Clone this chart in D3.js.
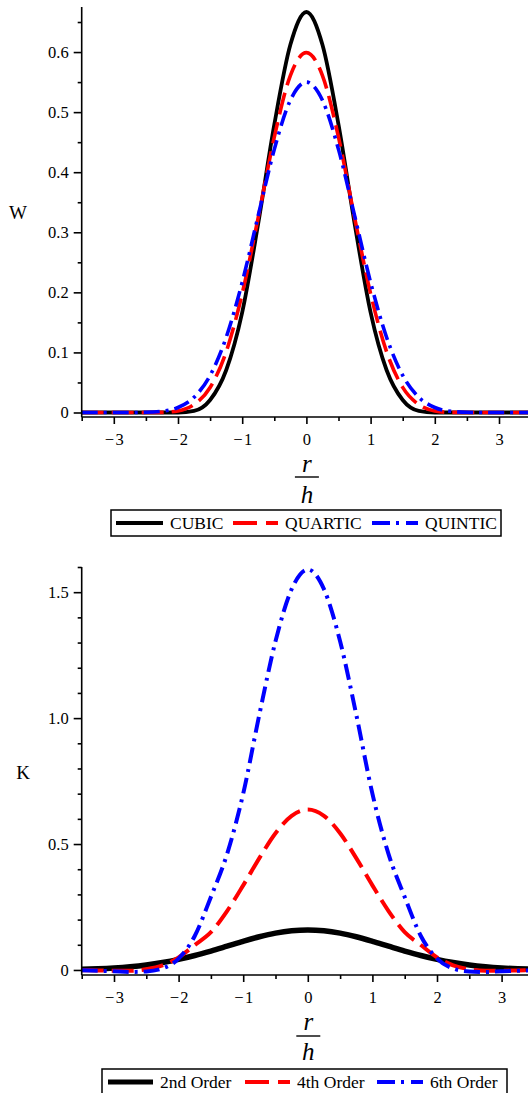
<!DOCTYPE html>
<html>
<head>
<meta charset="utf-8">
<script src="https://cdn.jsdelivr.net/npm/d3@7"></script>
<style>
  body { margin: 0; background: #fff; }
  svg { display: block; }
  text { font-family: "Liberation Serif", "Times New Roman", serif; fill: #000; }
</style>
</head>
<body>
<svg id="chart" width="528" height="1093"></svg>
<script>
// Sample positions r/h shared by both panels
const rOverH = [-3.5, -3.25, -3, -2.75, -2.5, -2.25, -2, -1.75, -1.5, -1.25, -1, -0.75, -0.5, -0.25, 0,
                0.25, 0.5, 0.75, 1, 1.25, 1.5, 1.75, 2, 2.25, 2.5, 2.75, 3, 3.25, 3.5];

// Upper panel: smoothing kernels W
const cubicW = [0, 0, 0, 0, 0, 0, 0, 0.0026, 0.0208, 0.0703, 0.1667, 0.3151, 0.4792, 0.6120, 0.6667,
                0.6120, 0.4792, 0.3151, 0.1667, 0.0703, 0.0208, 0.0026, 0, 0, 0, 0, 0, 0, 0];
const quarticW = [0, 0, 0, 0, 0, 0.0002, 0.0026, 0.0132, 0.0417, 0.1009, 0.1979, 0.3249, 0.4583, 0.5609, 0.5990,
                  0.5609, 0.4583, 0.3249, 0.1979, 0.1009, 0.0417, 0.0132, 0.0026, 0.0002, 0, 0, 0, 0, 0];
const quinticW = [0, 0, 0, 0, 0.0003, 0.0020, 0.0083, 0.0254, 0.0617, 0.1249, 0.2167, 0.3281, 0.4380, 0.5197, 0.5500,
                  0.5197, 0.4380, 0.3281, 0.2167, 0.1249, 0.0617, 0.0254, 0.0083, 0.0020, 0.0003, 0, 0, 0, 0];

// Lower panel: kernels K of increasing order
const order2K = [0.0027, 0.0047, 0.0079, 0.0128, 0.0198, 0.0294, 0.0419, 0.0573, 0.0751, 0.0944, 0.1139, 0.1318, 0.1463, 0.1557, 0.1590,
                 0.1557, 0.1463, 0.1318, 0.1139, 0.0944, 0.0751, 0.0573, 0.0419, 0.0294, 0.0198, 0.0128, 0.0079, 0.0047, 0.0027];
const order4K = [-0.001, -0.002, -0.003, -0.003, 0.003, 0.018, 0.050, 0.099, 0.150, 0.234, 0.336, 0.444, 0.543, 0.612, 0.637,
                 0.612, 0.543, 0.444, 0.336, 0.234, 0.150, 0.099, 0.050, 0.018, 0.003, -0.003, -0.003, -0.002, -0.001];
const order6K = [-0.001, -0.003, -0.005, -0.008, -0.006, 0.006, 0.045, 0.135, 0.290, 0.460, 0.700, 1.014, 1.305, 1.512, 1.590,
                 1.512, 1.305, 1.014, 0.700, 0.460, 0.290, 0.135, 0.045, 0.006, -0.006, -0.008, -0.005, -0.003, -0.001];

// Tick values and legend labels
const xMajorTicks = [-3, -2, -1, 0, 1, 2, 3];
const xMinorTicks = [-3.5, -2.5, -1.5, -0.5, 0.5, 1.5, 2.5, 3.5];
const wMajorTicks = [0, 0.1, 0.2, 0.3, 0.4, 0.5, 0.6];
const wMinorTicks = [0.05, 0.15, 0.25, 0.35, 0.45, 0.55, 0.65];
const kMajorTicks = [0, 0.5, 1.0, 1.5];
const kMinorTicks = [0.1, 0.2, 0.3, 0.4, 0.6, 0.7, 0.8, 0.9, 1.1, 1.2, 1.3, 1.4, 1.6];
const wNames = ["CUBIC", "QUARTIC", "QUINTIC"];
const kNames = ["2nd Order", "4th Order", "6th Order"];

const SERIF = '"Liberation Serif", "Times New Roman", serif';
const svg = d3.select("#chart");
const minus = s => s.replace("-", "\u2212\u200A");

function drawPanel(p) {
  const x = d3.scaleLinear().domain([-3.5, 3.5]).range([p.left, p.right]);
  const y = d3.scaleLinear().domain(p.yDomain).range([p.bottom, p.top]);
  const g = svg.append("g");

  // curves
  const clipId = "clip-" + p.id;
  svg.append("clipPath").attr("id", clipId)
    .append("rect").attr("x", p.left).attr("y", p.top - 10)
    .attr("width", p.right - p.left).attr("height", p.bottom - p.top + 10);
  const line = d3.line().x((d, i) => x(rOverH[i])).y(d => y(d)).curve(d3.curveMonotoneX);
  const curves = g.append("g").attr("clip-path", `url(#${clipId})`);
  p.series.forEach(s => {
    curves.append("path").datum(s.values)
      .attr("d", line).attr("fill", "none")
      .attr("stroke", s.color).attr("stroke-width", s.width)
      .attr("stroke-dasharray", s.dash || null)
      .attr("stroke-linejoin", "round");
  });

  // y axis
  const yAxis = g.append("g").attr("transform", `translate(${p.left},0)`);
  yAxis.call(d3.axisLeft(y).tickValues(p.yMajor).tickSize(8).tickPadding(5)
    .tickFormat(p.yFormat));
  yAxis.append("g").call(d3.axisLeft(y).tickValues(p.yMinor).tickSize(4).tickFormat(""));
  yAxis.selectAll(".domain").remove();
  yAxis.append("line").attr("x1", 0).attr("x2", 0).attr("y1", p.top).attr("y2", p.bottom);

  // x axis
  const xAxis = g.append("g").attr("transform", `translate(0,${p.bottom})`);
  xAxis.call(d3.axisBottom(x).tickValues(xMajorTicks).tickSize(7).tickPadding(9)
    .tickFormat(d => minus(String(d))));
  xAxis.append("g").call(d3.axisBottom(x).tickValues(xMinorTicks).tickSize(4).tickFormat(""));
  xAxis.selectAll(".domain").remove();
  xAxis.append("line").attr("x1", p.left).attr("x2", p.right).attr("y1", 0).attr("y2", 0);

  [yAxis, xAxis].forEach(a => a.attr("font-family", SERIF).attr("font-size", 16.5));
  g.selectAll("line").attr("stroke", "#000").attr("stroke-width", 1.6);
  g.selectAll(".tick text").attr("font-size", 16.5).attr("fill", "#000")
    .attr("font-family", SERIF);

  // axis titles
  g.append("text").attr("x", p.yLabelX).attr("y", p.yLabelY)
    .attr("text-anchor", "middle").attr("font-size", 19).text(p.yLabel);
  const fx = x(0) + 0.5;
  g.append("text").attr("x", fx).attr("y", p.fracTop)
    .attr("text-anchor", "middle").attr("font-size", 25).attr("font-style", "italic").text("r");
  g.append("line").attr("x1", fx - 12).attr("x2", fx + 12)
    .attr("y1", p.fracLine).attr("y2", p.fracLine).attr("stroke", "#000").attr("stroke-width", 1.4);
  g.append("text").attr("x", fx).attr("y", p.fracBottom)
    .attr("text-anchor", "middle").attr("font-size", 25).attr("font-style", "italic").text("h");

  // legend
  const lg = g.append("g");
  lg.append("rect").attr("x", p.legend.x).attr("y", p.legend.y)
    .attr("width", p.legend.w).attr("height", 26)
    .attr("fill", "#fff").attr("stroke", "#000").attr("stroke-width", 1.5);
  p.series.forEach((s, i) => {
    const e = p.legend.items[i];
    lg.append("line").attr("x1", e[0]).attr("x2", e[1])
      .attr("y1", p.legend.y + 13).attr("y2", p.legend.y + 13)
      .attr("stroke", s.color).attr("stroke-width", s.legendWidth)
      .attr("stroke-dasharray", s.legendDash || null);
    lg.append("text").attr("x", e[1] + 7).attr("y", p.legend.y + 18.5)
      .attr("font-size", 17.5).text(s.name);
  });
}

drawPanel({
  id: "w", left: 81.7, right: 81.7 + 7 * 64.2, top: 7, bottom: 417,
  yDomain: [-0.0075, 0.675], yMajor: wMajorTicks, yMinor: wMinorTicks,
  yFormat: d => d === 0 ? "0" : d3.format(".1f")(d),
  yLabel: "W", yLabelX: 18, yLabelY: 219,
  fracTop: 472, fracLine: 477, fracBottom: 503,
  series: [
    { name: wNames[0], values: cubicW, color: "#000", width: 3.8, legendWidth: 4 },
    { name: wNames[1], values: quarticW, color: "#ff0000", width: 3.6, dash: "22,8", legendWidth: 4, legendDash: "24,9" },
    { name: wNames[2], values: quinticW, color: "#0000ff", width: 3.6, dash: "16,6,3,6", legendWidth: 4, legendDash: "18,6,3,7" }
  ],
  legend: { x: 111, y: 510, w: 390, items: [[116, 163], [233, 278], [372, 418]] }
});

drawPanel({
  id: "k", left: 81.7, right: 81.7 + 7 * 64.6, top: 567, bottom: 975,
  yDomain: [-0.02, 1.6], yMajor: kMajorTicks, yMinor: kMinorTicks,
  yFormat: d => d === 0 ? "0" : d3.format(".1f")(d),
  yLabel: "K", yLabelX: 23, yLabelY: 779,
  fracTop: 1030, fracLine: 1036, fracBottom: 1060,
  series: [
    { name: kNames[0], values: order2K, color: "#000", width: 5.5, legendWidth: 5 },
    { name: kNames[1], values: order4K, color: "#ff0000", width: 4, dash: "22,8", legendWidth: 4, legendDash: "24,9" },
    { name: kNames[2], values: order6K, color: "#0000ff", width: 4, dash: "16,6,3,6", legendWidth: 4, legendDash: "18,6,3,7" }
  ],
  legend: { x: 102, y: 1069, w: 405, items: [[108, 153], [245, 290], [377, 423]] }
});
</script>
</body>
</html>
